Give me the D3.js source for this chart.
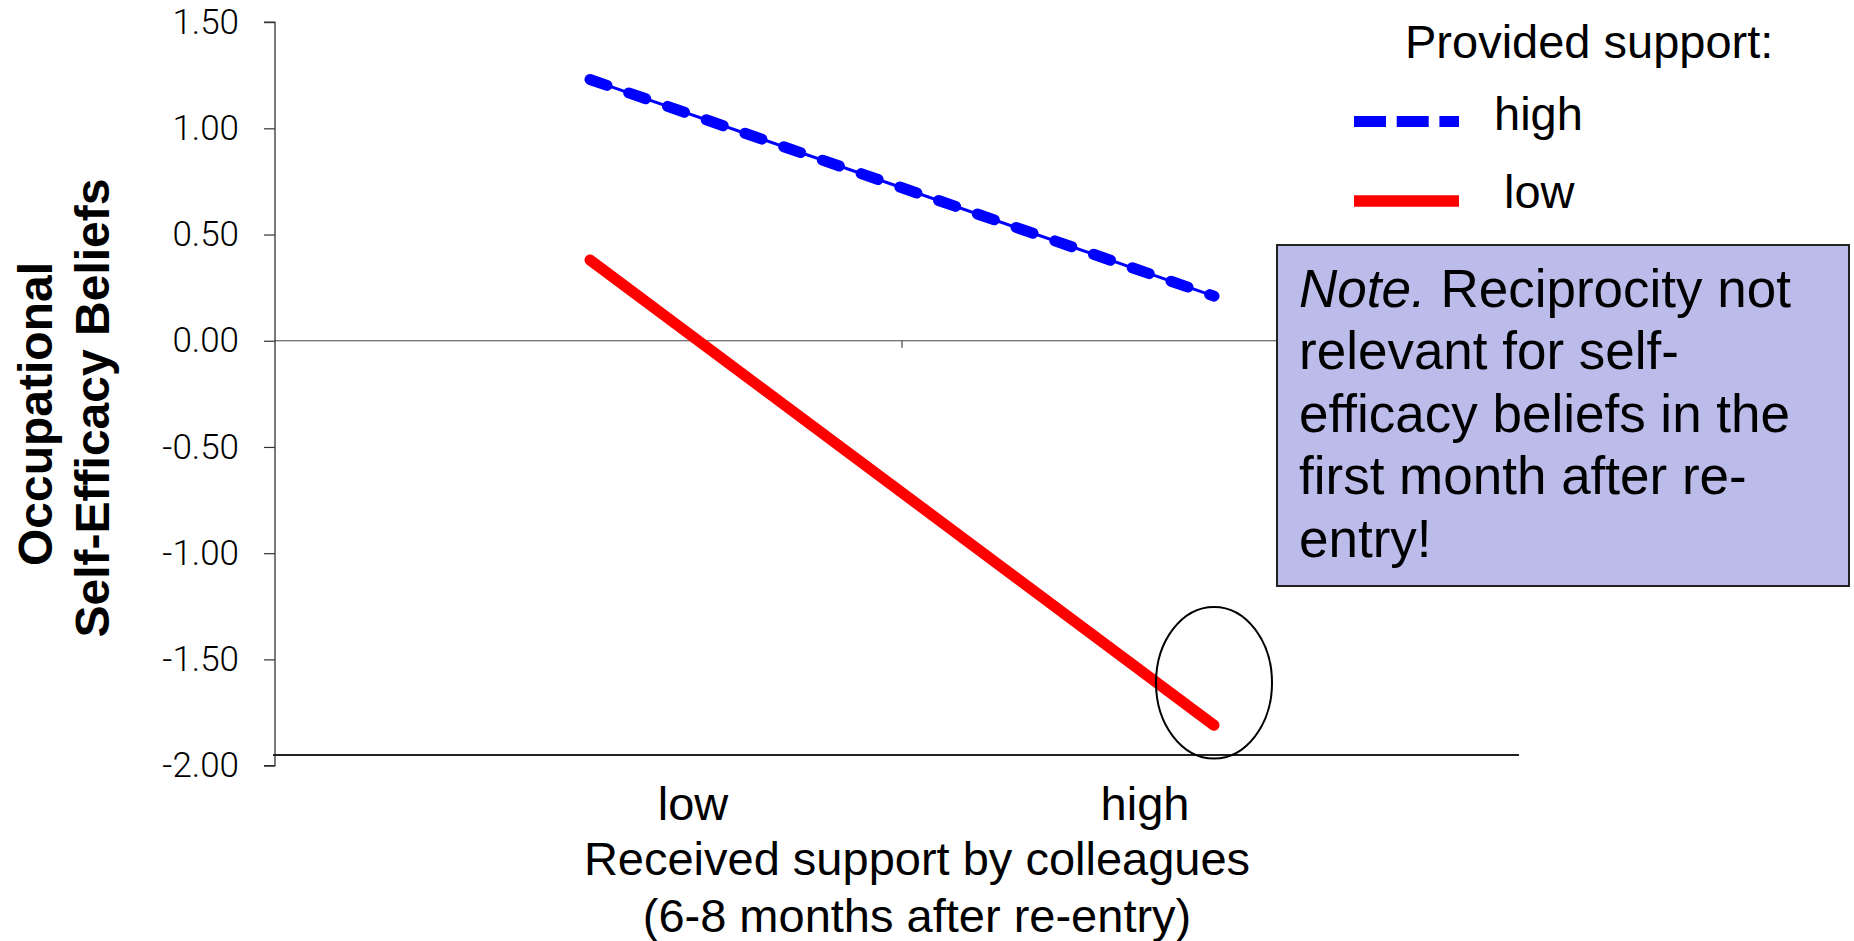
<!DOCTYPE html>
<html>
<head>
<meta charset="utf-8">
<script src="https://cdn.jsdelivr.net/npm/d3@7"></script>
<style>
  html, body { margin: 0; padding: 0; background: #fff; }
  svg { display: block; }
  text { font-family: "Liberation Sans", Arial, sans-serif; fill: #000; }
</style>
</head>
<body>
<svg id="chart" width="1854" height="941"></svg>
<script>
// Simple slopes: occupational self-efficacy by received support,
// split by level of provided support.
const categories = ["low", "high"];
const highProvided = [1.23, 0.21];   // provided support: high
const lowProvided = [0.38, -1.81];   // provided support: low
const yTicks = [-2.0, -1.5, -1.0, -0.5, 0.0, 0.5, 1.0, 1.5];
const legendTitle = "Provided support:";
const legendLabels = ["high", "low"];
const xTickLabels = ["low", "high"];
const xTitle = ["Received support by colleagues", "(6-8 months after re-entry)"];
const yTitle = ["Occupational", "Self-Efficacy Beliefs"];
const noteLines = [
  ["Note.", " Reciprocity not"],
  ["", "relevant for self-"],
  ["", "efficacy beliefs in the"],
  ["", "first month after re-"],
  ["", "entry!"]
];

const svg = d3.select("#chart");

const plot = { left: 275, right: 1526, top: 22.1, bottom: 765.6 };

const y = d3.scaleLinear().domain([-2, 1.5]).range([plot.bottom, plot.top]);
const x = d3.scaleBand().domain(categories).range([plot.left + 3, plot.right]);
const cx = c => x(c) + x.bandwidth() / 2;

// zero reference line with a category divider tick
svg.append("line")
  .attr("x1", plot.left).attr("x2", plot.right)
  .attr("y1", y(0)).attr("y2", y(0))
  .attr("stroke", "#444").attr("stroke-width", 1.2);
svg.append("line")
  .attr("x1", x("high")).attr("x2", x("high"))
  .attr("y1", y(0)).attr("y2", y(0) + 7)
  .attr("stroke", "#444").attr("stroke-width", 1.2);

// floor line near the bottom of the value range
svg.append("line")
  .attr("x1", plot.left - 2).attr("x2", 1519)
  .attr("y1", y(-1.95)).attr("y2", y(-1.95))
  .attr("stroke", "#222").attr("stroke-width", 2);

// value axis
const yAxis = d3.axisLeft(y)
  .tickValues(yTicks)
  .tickSize(11)
  .tickPadding(25)
  .tickFormat(d => d.toFixed(2));
const yg = svg.append("g")
  .attr("transform", `translate(${plot.left},0)`)
  .call(yAxis);
yg.select(".domain").attr("stroke", "#222").attr("stroke-width", 1.2)
  .attr("d", `M-11,${plot.top}H0V${plot.bottom}H-11`);
yg.selectAll(".tick line").attr("stroke", "#333").attr("stroke-width", 1.2);
yg.selectAll(".tick text")
  .style("font-family", "Roboto, 'Liberation Sans', sans-serif")
  .style("font-weight", 300)
  .style("font-size", "35px")
  .attr("fill", "#000");

// series lines
const line = d3.line().x((d, i) => cx(categories[i])).y(d => y(d));

svg.append("path")
  .datum(lowProvided)
  .attr("d", line)
  .attr("fill", "none")
  .attr("stroke", "#ff0000")
  .attr("stroke-width", 11)
  .attr("stroke-linecap", "round");

svg.append("path")
  .datum(highProvided)
  .attr("d", line)
  .attr("fill", "none")
  .attr("stroke", "#0000ff")
  .attr("stroke-width", 3);
svg.append("path")
  .datum(highProvided)
  .attr("d", line)
  .attr("fill", "none")
  .attr("stroke", "#0000ff")
  .attr("stroke-width", 11)
  .attr("stroke-linecap", "round")
  .attr("stroke-dasharray", "18 23");

// highlight ring around the low/high endpoint
const ringCenter = -1.61, ringHalf = 0.357;
svg.append("ellipse")
  .attr("cx", cx("high"))
  .attr("cy", y(ringCenter))
  .attr("rx", 58)
  .attr("ry", y(ringCenter - ringHalf) - y(ringCenter))
  .attr("fill", "none")
  .attr("stroke", "#000")
  .attr("stroke-width", 2);

// category labels
const xLabelPos = [693, 1145];
svg.selectAll(".xlab")
  .data(xTickLabels)
  .join("text")
  .attr("class", "xlab")
  .attr("x", (d, i) => xLabelPos[i])
  .attr("y", 820)
  .attr("text-anchor", "middle")
  .style("font-size", "47px")
  .text(d => d);

// axis titles
svg.selectAll(".xtitle")
  .data(xTitle)
  .join("text")
  .attr("class", "xtitle")
  .attr("x", 917)
  .attr("y", (d, i) => 875 + i * 57)
  .attr("text-anchor", "middle")
  .style("font-size", "47px")
  .text(d => d);

svg.selectAll(".ytitle")
  .data(yTitle)
  .join("text")
  .attr("class", "ytitle")
  .attr("transform", (d, i) => `translate(${52 + i * 57},${414 - i * 6}) rotate(-90)`)
  .attr("text-anchor", "middle")
  .style("font-size", "48px")
  .style("font-weight", "bold")
  .text(d => d);

// legend
svg.append("text")
  .attr("x", 1405).attr("y", 58)
  .style("font-size", "47px")
  .text(legendTitle);

const legend = [
  { label: legendLabels[0], color: "#0000ff", dash: "32 10.7", ly: 121.5, tx: 1494, ty: 130, w: 11 },
  { label: legendLabels[1], color: "#ff0000", dash: null, ly: 201, tx: 1504, ty: 208, w: 11.5 }
];
legend.forEach(l => {
  svg.append("line")
    .attr("x1", 1354).attr("x2", 1459)
    .attr("y1", l.ly).attr("y2", l.ly)
    .attr("stroke", l.color)
    .attr("stroke-width", l.w)
    .attr("stroke-dasharray", l.dash);
  svg.append("text")
    .attr("x", l.tx).attr("y", l.ty)
    .style("font-size", "47px")
    .text(l.label);
});

// note box
svg.append("rect")
  .attr("x", 1277).attr("y", 245)
  .attr("width", 572).attr("height", 341)
  .attr("fill", "#bcbceb")
  .attr("stroke", "#222")
  .attr("stroke-width", 2);

noteLines.forEach((parts, i) => {
  const t = svg.append("text")
    .attr("x", 1299)
    .attr("y", 306.5 + i * 62.5)
    .style("font-size", "53px");
  if (parts[0]) t.append("tspan").style("font-style", "italic").text(parts[0]);
  t.append("tspan").text(parts[1]);
});
</script>
</body>
</html>
